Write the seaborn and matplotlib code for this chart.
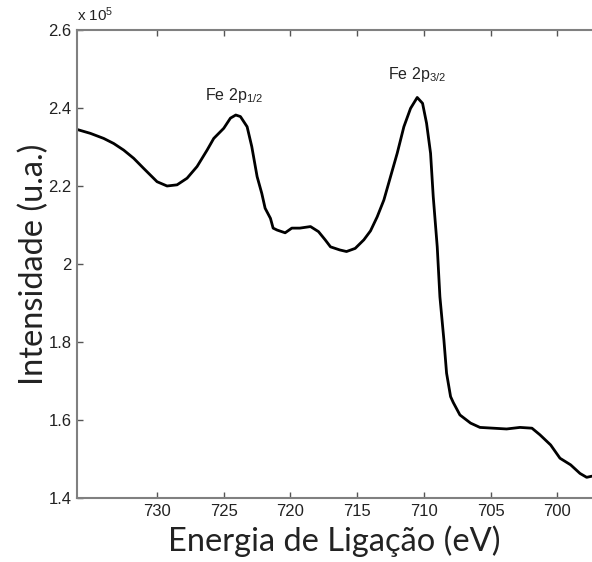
import matplotlib
matplotlib.use("Agg")
import matplotlib.pyplot as plt
import seaborn as sns
import pandas as pd

# Binding energy (eV) and intensity (x 1e5 counts)
energy = [736.0, 735.0, 734.0, 733.25, 732.5, 731.75, 731.0, 730.0, 729.25, 728.5,
          727.75, 727.0, 726.25, 725.75, 725.0, 724.5, 724.1, 723.75, 723.25, 722.9,
          722.5, 722.15, 721.9, 721.5, 721.3, 721.0, 720.4, 719.9, 719.3, 718.5,
          717.9, 717.4, 717.0, 716.3, 715.8, 715.15, 714.5, 714.0, 713.5, 713.0,
          712.5, 712.0, 711.5, 711.0, 710.5, 710.1, 709.8, 709.5, 709.3, 709.0,
          708.8, 708.5, 708.3, 708.0, 707.8, 707.3, 706.5, 705.8, 704.8, 703.8,
          702.8, 701.9, 701.3, 700.5, 699.8, 699.0, 698.3, 697.8, 697.4]
intensity = [2.345, 2.335, 2.322, 2.309, 2.292, 2.271, 2.245, 2.211, 2.200, 2.203,
             2.220, 2.250, 2.292, 2.322, 2.348, 2.374, 2.382, 2.378, 2.352, 2.301,
             2.224, 2.181, 2.143, 2.117, 2.092, 2.087, 2.080, 2.092, 2.092, 2.096,
             2.083, 2.062, 2.044, 2.036, 2.032, 2.040, 2.062, 2.085, 2.121, 2.164,
             2.224, 2.284, 2.352, 2.399, 2.427, 2.412, 2.361, 2.284, 2.173, 2.044,
             1.916, 1.805, 1.720, 1.660, 1.645, 1.613, 1.592, 1.581, 1.579, 1.577,
             1.581, 1.579, 1.562, 1.536, 1.502, 1.485, 1.463, 1.453, 1.456]

x_ticks = [730, 725, 720, 715, 710, 705, 700]
y_ticks = [1.4, 1.6, 1.8, 2.0, 2.2, 2.4, 2.6]
y_tick_labels = ["1.4", "1.6", "1.8", "2", "2.2", "2.4", "2.6"]

peak_labels = ["Fe 2p$_{1/2}$", "Fe 2p$_{3/2}$"]
peak_pos = [(724.2, 2.433), (710.5, 2.485)]

df = pd.DataFrame({"energy": energy, "intensity": intensity})

sns.set_theme(style="white")
plt.rcParams["font.family"] = ["Liberation Sans", "DejaVu Sans"]
plt.rcParams["mathtext.default"] = "regular"

fig = plt.figure(figsize=(5.92, 5.62), dpi=100)
ax = fig.add_axes([77 / 592, 64 / 562, 515 / 592, 468 / 562])

sns.lineplot(data=df, x="energy", y="intensity", ax=ax, color="black",
             linewidth=2.0, sort=False)

ax.set_xlim(736.0, 697.4)
ax.set_ylim(1.4, 2.6)
ax.set_xticks(x_ticks)
ax.set_xticklabels([str(t) for t in x_ticks])
ax.set_yticks(y_ticks)
ax.set_yticklabels(y_tick_labels)

grey = "#808080"
for side in ["left", "bottom", "top"]:
    ax.spines[side].set_visible(True)
    ax.spines[side].set_color(grey)
    ax.spines[side].set_linewidth(1.5)
ax.spines["right"].set_visible(False)

ax.tick_params(axis="both", direction="in", length=4, width=1, color="#555555",
               labelsize=12, labelcolor="#222222", pad=4)
ax.tick_params(axis="x", top=True, bottom=True)
ax.tick_params(axis="y", left=True, right=False)

ax.set_xlabel("Energia de Ligação (eV)", family=["Lato", "DejaVu Sans"],
              fontsize=23.5, color="#222222", labelpad=5)
ax.set_ylabel("Intensidade (u.a.)", family=["Lato", "DejaVu Sans"],
              fontsize=23.5, color="#222222", labelpad=-1)

ax.text(0.0, 1.012, "x 10$^5$", transform=ax.transAxes, fontsize=11,
        color="#222222", ha="left", va="bottom")

for lab, (px, py) in zip(peak_labels, peak_pos):
    ax.text(px, py, lab, fontsize=11.5, color="#222222", ha="center", va="center")

fig.savefig("out.png", dpi=100)
